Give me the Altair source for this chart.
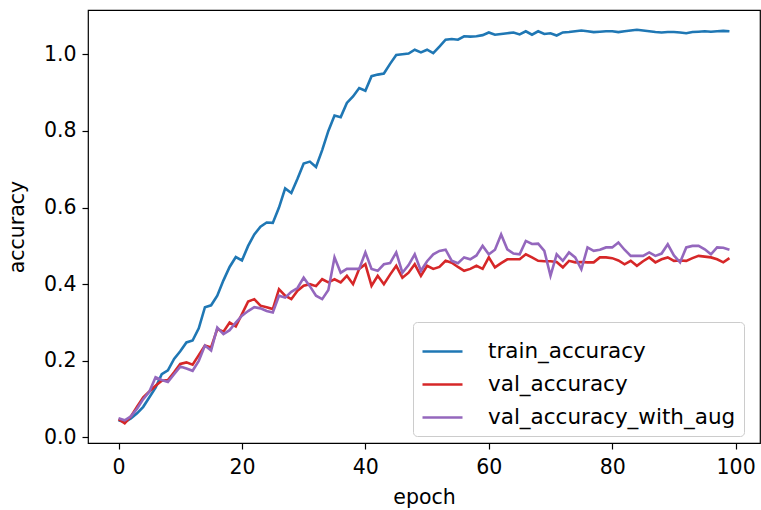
import altair as alt
import pandas as pd

epochs = list(range(100))

train_accuracy = [
    0.045, 0.040, 0.050, 0.063, 0.080, 0.105, 0.130, 0.165, 0.175, 0.205,
    0.225, 0.248, 0.253, 0.285, 0.340, 0.345, 0.370, 0.410, 0.445, 0.471,
    0.462, 0.500, 0.530, 0.550, 0.561, 0.560, 0.600, 0.650, 0.638, 0.675,
    0.715, 0.720, 0.706, 0.750, 0.800, 0.840, 0.836, 0.873, 0.890, 0.912,
    0.905, 0.943, 0.947, 0.950, 0.975, 0.998, 1.000, 1.002, 1.012, 1.005,
    1.012, 1.003, 1.020, 1.038, 1.040, 1.038, 1.047, 1.046, 1.047, 1.050,
    1.057, 1.051, 1.053, 1.055, 1.057, 1.052, 1.060, 1.051, 1.060, 1.053,
    1.055, 1.049, 1.057, 1.058, 1.060, 1.062, 1.060, 1.058, 1.059, 1.060,
    1.060, 1.058, 1.060, 1.062, 1.064, 1.062, 1.060, 1.058, 1.057, 1.058,
    1.058, 1.057, 1.055, 1.058, 1.059, 1.060, 1.059, 1.060, 1.061, 1.060,
]

val_accuracy = [
    0.048, 0.037, 0.055, 0.080, 0.105, 0.120, 0.135, 0.148, 0.150, 0.170,
    0.192, 0.196, 0.190, 0.215, 0.240, 0.235, 0.283, 0.276, 0.300, 0.290,
    0.322, 0.355, 0.361, 0.344, 0.340, 0.335, 0.387, 0.370, 0.361, 0.383,
    0.396, 0.400, 0.395, 0.413, 0.405, 0.413, 0.405, 0.422, 0.400, 0.440,
    0.452, 0.396, 0.422, 0.400, 0.425, 0.448, 0.417, 0.430, 0.452, 0.422,
    0.448, 0.440, 0.445, 0.461, 0.456, 0.445, 0.435, 0.440, 0.448, 0.440,
    0.470, 0.444, 0.455, 0.465, 0.465, 0.465, 0.478, 0.470, 0.461, 0.460,
    0.460, 0.458, 0.444, 0.461, 0.457, 0.458, 0.457, 0.457, 0.470, 0.470,
    0.468, 0.462, 0.452, 0.461, 0.448, 0.460, 0.470, 0.457, 0.465, 0.470,
    0.461, 0.462, 0.461, 0.468, 0.474, 0.472, 0.470, 0.465, 0.457, 0.468,
]

val_accuracy_with_aug = [
    0.050, 0.045, 0.055, 0.075, 0.100, 0.120, 0.157, 0.150, 0.145, 0.165,
    0.185, 0.180, 0.174, 0.200, 0.240, 0.227, 0.287, 0.270, 0.280, 0.300,
    0.318, 0.330, 0.340, 0.337, 0.330, 0.326, 0.370, 0.365, 0.380, 0.390,
    0.417, 0.395, 0.370, 0.361, 0.385, 0.470, 0.430, 0.440, 0.440, 0.440,
    0.483, 0.440, 0.435, 0.452, 0.455, 0.483, 0.430, 0.450, 0.478, 0.435,
    0.460, 0.478, 0.487, 0.490, 0.461, 0.455, 0.470, 0.465, 0.475, 0.500,
    0.478, 0.490, 0.530, 0.491, 0.480, 0.478, 0.513, 0.505, 0.506, 0.487,
    0.422, 0.478, 0.461, 0.483, 0.470, 0.439, 0.496, 0.487, 0.490, 0.496,
    0.496, 0.509, 0.490, 0.474, 0.474, 0.474, 0.483, 0.474, 0.480, 0.504,
    0.475, 0.457, 0.496, 0.500, 0.500, 0.491, 0.478, 0.496, 0.495, 0.490,
]

series_names = ["train_accuracy", "val_accuracy", "val_accuracy_with_aug"]
series_colors = ["#1f77b4", "#d62728", "#9467bd"]
x_ticks = [0, 20, 40, 60, 80, 100]
y_ticks = [0.0, 0.2, 0.4, 0.6, 0.8, 1.0]

rows = []
for name, vals in zip(series_names, [train_accuracy, val_accuracy, val_accuracy_with_aug]):
    for e, v in zip(epochs, vals):
        rows.append({"epoch": e, "accuracy": v, "series": name})
df = pd.DataFrame(rows)

FONT = "DejaVu Sans"

chart = alt.Chart(df).mark_line(strokeWidth=2.6, clip=True).encode(
    x=alt.X("epoch:Q", title="epoch",
            scale=alt.Scale(domain=[-4.95, 103.95], nice=False, zero=False),
            axis=alt.Axis(values=x_ticks, format="d", grid=False)),
    y=alt.Y("accuracy:Q", title="accuracy",
            scale=alt.Scale(domain=[-0.0144, 1.1156], nice=False, zero=False),
            axis=alt.Axis(values=y_ticks, format=".1f", grid=False)),
    color=alt.Color("series:N",
                    scale=alt.Scale(domain=series_names, range=series_colors),
                    legend=alt.Legend(title=None, orient="none", legendX=325, legendY=312)),
    order=alt.Order("epoch:Q"),
).properties(
    width=672, height=433,
    autosize=alt.AutoSizeParams(type="none"),
    padding={"left": 88, "top": 10, "right": 1, "bottom": 67},
).configure_view(
    stroke="#000000", strokeWidth=1.2
).configure_axis(
    domain=False,
    tickColor="#000000", tickWidth=1.2, tickSize=6,
    labelFont=FONT, labelFontSize=20.5, labelColor="#000000", labelPadding=6,
    titleFont=FONT, titleFontSize=20.5, titleColor="#000000", titleFontWeight="normal",
).configure_axisY(
    titlePadding=16
).configure_axisX(
    labelPadding=8, titlePadding=10
).configure_legend(
    labelFont=FONT, labelFontSize=21.5, labelColor="#000000", labelLimit=0,
    symbolType="stroke", symbolStrokeWidth=2.6, symbolSize=1600,
    fillColor="white", strokeColor="#cccccc", cornerRadius=4,
    padding=8, rowPadding=1, labelOffset=24,
)

chart.save("out.html", embed_options={"renderer": "svg", "actions": False})
